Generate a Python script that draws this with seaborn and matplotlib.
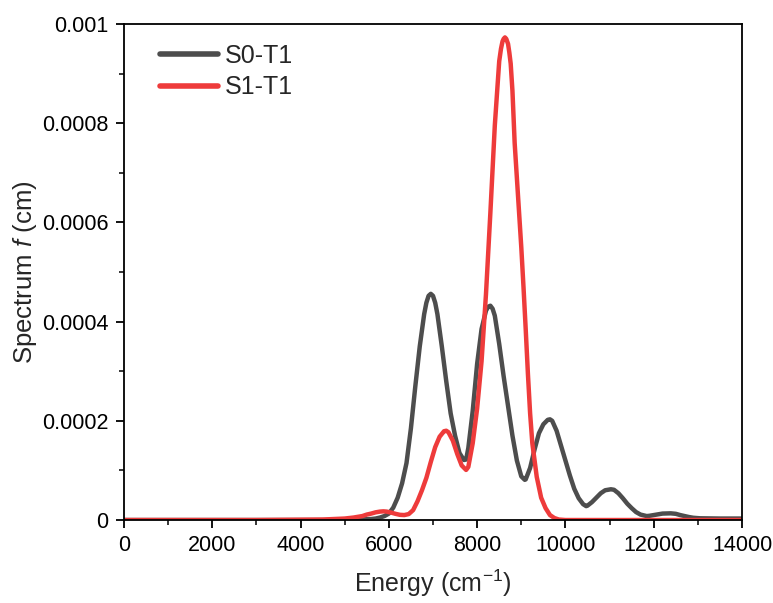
import matplotlib
matplotlib.use("Agg")
import matplotlib.pyplot as plt
import seaborn as sns
import pandas as pd
from matplotlib.ticker import MultipleLocator, FuncFormatter

# ---- data (values in units of 1e-4 cm) ----
s0_energy = [0, 2000, 4000, 5000, 5600, 5700, 5800, 5900, 6000, 6100, 6200, 6300, 6400,
             6500, 6600, 6700, 6800, 6850, 6900, 6950, 7000, 7050, 7100, 7200, 7300, 7400, 7500,
             7600, 7700, 7750, 7800, 7900, 8000, 8100, 8200, 8250, 8300, 8350, 8400, 8500, 8600,
             8700, 8800, 8900, 9000, 9080, 9100, 9200, 9300, 9400, 9500, 9600, 9650,
             9700, 9800, 9900, 10000, 10100, 10200, 10300, 10400, 10470, 10500, 10600,
             10700, 10800, 10900, 11030, 11100, 11200, 11300, 11400, 11500, 11600,
             11700, 11840, 11900, 12000, 12100, 12200, 12385, 12500, 12600, 12700,
             12800, 12900, 13050, 13500, 14000]
s0_value = [0.0, 0.0, 0.0, 0.0, 0.02, 0.03, 0.05, 0.08, 0.13, 0.25, 0.45, 0.74, 1.15,
            1.85, 2.7, 3.5, 4.15, 4.38, 4.52, 4.56, 4.52, 4.38, 4.15, 3.5, 2.8, 2.15, 1.7,
            1.35, 1.21, 1.22, 1.45, 2.2, 3.15, 3.85, 4.22, 4.3, 4.32, 4.26, 4.12, 3.55, 2.9,
            2.3, 1.7, 1.2, 0.88, 0.81, 0.82, 1.05, 1.42, 1.75, 1.93, 2.02, 2.03,
            2.0, 1.8, 1.5, 1.2, 0.9, 0.63, 0.44, 0.32, 0.28, 0.29, 0.36,
            0.45, 0.54, 0.6, 0.62, 0.61, 0.54, 0.44, 0.33, 0.24, 0.16,
            0.11, 0.08, 0.085, 0.1, 0.115, 0.13, 0.135, 0.125, 0.1, 0.08,
            0.06, 0.045, 0.035, 0.03, 0.03]

s1_energy = [0, 3000, 4500, 5000, 5200, 5400, 5500, 5600, 5700, 5800, 5875, 5950, 6050,
             6150, 6250, 6350, 6450, 6550, 6650, 6750, 6850, 6950, 7050, 7150, 7250,
             7300, 7350, 7450, 7550, 7650, 7750, 7800, 7900, 8000, 8100, 8200, 8300,
             8400, 8500, 8540, 8575, 8600, 8630, 8660, 8700, 8730, 8760, 8800, 8850,
             8950, 9000, 9050, 9100, 9150, 9200, 9250, 9350, 9450, 9550, 9650, 9750,
             9850, 10000, 14000]
s1_value = [0.0, 0.0, 0.01, 0.03, 0.05, 0.08, 0.11, 0.13, 0.155, 0.17, 0.175, 0.17, 0.15,
            0.125, 0.105, 0.1, 0.12, 0.2, 0.38, 0.6, 0.85, 1.17, 1.47, 1.68, 1.79,
            1.8, 1.77, 1.6, 1.33, 1.1, 1.01, 1.07, 1.55, 2.25, 3.2, 4.55, 6.2,
            7.95, 9.25, 9.5, 9.65, 9.7, 9.73, 9.7, 9.6, 9.42, 9.2, 8.65, 7.6,
            6.2, 5.5, 4.7, 3.85, 2.95, 2.15, 1.55, 0.87, 0.45, 0.24, 0.1, 0.04,
            0.01, 0.0, 0.0]

series_names = ["S0-T1", "S1-T1"]
series_colors = ["#4D4D4D", "#EE3B3B"]
value_scale = 1e-4

df = pd.concat([
    pd.DataFrame({"Energy": s0_energy, "f": [v * value_scale for v in s0_value], "series": series_names[0]}),
    pd.DataFrame({"Energy": s1_energy, "f": [v * value_scale for v in s1_value], "series": series_names[1]}),
], ignore_index=True)

sns.set_style("ticks")
plt.rcParams["font.family"] = ["Liberation Sans", "DejaVu Sans"]
plt.rcParams["mathtext.fontset"] = "custom"
plt.rcParams["mathtext.rm"] = "Liberation Sans"
plt.rcParams["mathtext.it"] = "Liberation Sans:italic"

fig = plt.figure(figsize=(7.73, 6.03), dpi=100)
ax = fig.add_axes([0.1604, 0.1376, 0.7995, 0.8226])

sns.lineplot(data=df, x="Energy", y="f", hue="series", palette=series_colors,
             hue_order=series_names, linewidth=3.2, ax=ax, sort=False, estimator=None)

ax.set_xlim(0, 14000)
ax.set_ylim(0, 0.001)
ax.xaxis.set_major_locator(MultipleLocator(2000))
ax.xaxis.set_minor_locator(MultipleLocator(1000))
ax.yaxis.set_major_locator(MultipleLocator(0.0002))
ax.yaxis.set_minor_locator(MultipleLocator(0.0001))
ax.yaxis.set_major_formatter(FuncFormatter(lambda v, p: "%g" % round(v, 6)))

for s in ax.spines.values():
    s.set_linewidth(1.3)
    s.set_color("black")
    s.set_visible(True)
ax.tick_params(which="major", direction="out", length=6, width=1.3, labelsize=15.5, pad=5,
               top=False, right=False, colors="black")
ax.tick_params(which="minor", direction="out", length=3.5, width=1.3, top=False, right=False)

ax.set_xlabel("Energy (cm$^{-1}$)", fontsize=18, labelpad=8)
ax.set_ylabel("Spectrum $\\it{f}$ (cm)", fontsize=18.5, labelpad=2)

leg = ax.legend(loc="upper left", bbox_to_anchor=(0.03, 0.995), frameon=False, fontsize=18,
                handlelength=2.3, handletextpad=0.3, labelspacing=0.3, borderaxespad=0.3)
for line in leg.get_lines():
    line.set_linewidth(4.0)

fig.savefig("out.png", dpi=100)
